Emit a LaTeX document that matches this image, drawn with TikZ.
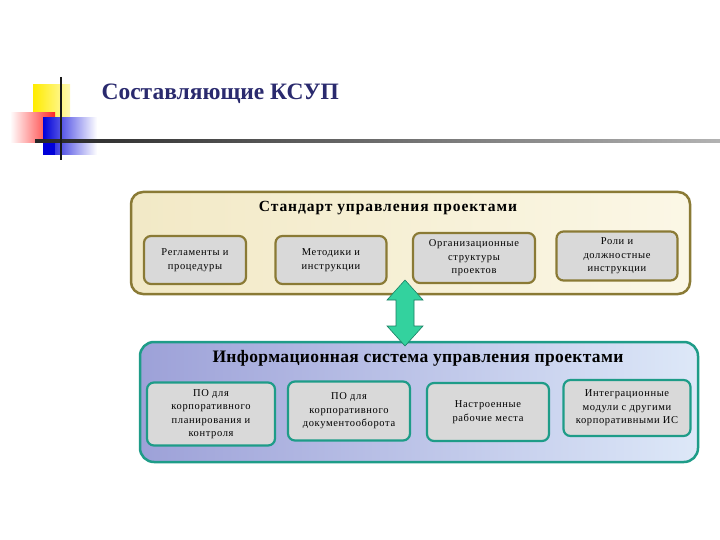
\documentclass[tikz,border=0pt]{standalone}
\usepackage{fontspec}
\setmainfont{Liberation Serif}
\usetikzlibrary{positioning}
\definecolor{navy}{HTML}{2A2A6E}
\definecolor{olive}{HTML}{8A7A35}
\definecolor{cream}{HTML}{F2E9C6}
\definecolor{creamlight}{HTML}{FBF7E6}
\definecolor{teal}{HTML}{1E9C88}
\definecolor{lav}{HTML}{9DA1D8}
\definecolor{skyl}{HTML}{DDE8F8}
\definecolor{boxgray}{HTML}{D9D9D9}
\definecolor{arrowgreen}{HTML}{33D29E}
\definecolor{arrowdark}{HTML}{1B7F63}
\newcommand{\boxfont}{\fontsize{10.5}{13.5}\selectfont\addfontfeature{LetterSpace=6}}
\tikzset{
  topbox/.style={draw=olive, line width=2.2pt, rounded corners=7pt, fill=boxgray,
    align=center, font=\boxfont, inner sep=2pt},
  botbox/.style={draw=teal, line width=2.2pt, rounded corners=7pt, fill=boxgray,
    align=center, font=\boxfont, inner sep=2pt},
}
\begin{document}
\begin{tikzpicture}[x=1pt,y=-1pt]
\useasboundingbox (0,0) rectangle (720,540);
\fill[white] (0,0) rectangle (720,540);
% decorative squares
\shade[left color=yellow!85!orange, right color=yellow!85!orange!30!white] (33,85) rectangle (70,122);
\shade[left color=white, right color=red!85] (10,113) rectangle (55,143);
\shade[left color=blue!85!black, right color=white] (43,118) rectangle (97,155);
\fill[blue!85!black] (43,143) rectangle (55,155);
\shade[left color=black!85, right color=black!30] (35,140) rectangle (720,142.5);
\draw[line width=2pt, black!90] (61,77) -- (61,160);
% title
\node[anchor=west, text=navy, font=\bfseries\fontsize{23.5}{26}\selectfont] (title) at (98,94) {Составляющие КСУП};
% top container
\draw[olive, line width=2.5pt, rounded corners=12pt, left color=cream, right color=creamlight] (131,192) rectangle (690,294);
\node[font=\bfseries\fontsize{15.5}{17}\selectfont\addfontfeature{LetterSpace=6}] (stdtitle) at (388,208) {Стандарт управления проектами};
\node[topbox, minimum width=102pt, minimum height=48pt] (t1) at (195,260) {Регламенты и\\процедуры};
\node[topbox, minimum width=111pt, minimum height=48pt] (t2) at (331,260) {Методики и\\инструкции};
\node[topbox, minimum width=122pt, minimum height=50pt] (t3) at (474,258) {Организационные\\структуры\\проектов};
\node[topbox, minimum width=121pt, minimum height=49pt] (t4) at (617,256) {Роли и\\должностные\\инструкции};
% bottom container
\draw[teal, line width=2.5pt, rounded corners=14pt, left color=lav, right color=skyl] (140,342) rectangle (698,462);
\node[font=\bfseries\fontsize{17.5}{19}\selectfont\addfontfeature{LetterSpace=2}] (istitle) at (418,358) {Информационная система управления проектами};
\node[botbox, minimum width=128pt, minimum height=63pt] (b1) at (211,414) {ПО для\\корпоративного\\планирования и\\контроля};
\node[botbox, minimum width=122pt, minimum height=59pt] (b2) at (349,411) {ПО для\\корпоративного\\документооборота};
\node[botbox, minimum width=122pt, minimum height=58pt] (b3) at (488,412) {Настроенные\\рабочие места};
\node[botbox, minimum width=127pt, minimum height=56pt] (b4) at (627,408) {Интеграционные\\модули с другими\\корпоративными ИС};
% double arrow
\coordinate (atop) at (405,280);
\coordinate (abot) at (405,346);
\fill[arrowgreen, draw=arrowdark, line width=0.6pt]
  (atop) -- ++(18,20) -- ++(-9,0) -- ++(0,26) -- ++(9,0) -- (abot)
  -- ++(-18,-20) -- ++(9,0) -- ++(0,-26) -- ++(-9,0) -- cycle;
\end{tikzpicture}
\end{document}
